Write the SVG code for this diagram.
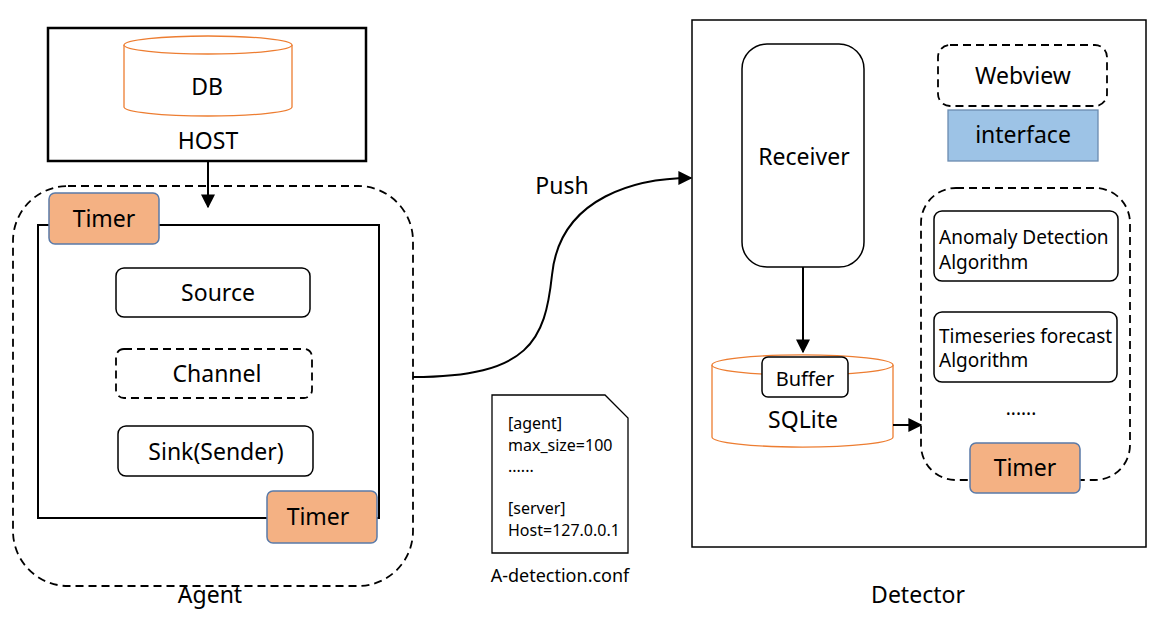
<svg xmlns="http://www.w3.org/2000/svg" width="1163" height="618" viewBox="0 0 1163 618">
<defs>
<style>
text{font-family:"Noto Sans","Open Sans",sans-serif;fill:#000}
.b{font-size:23px;text-anchor:middle}
.s{font-size:19px}
.f{font-size:16px}
.box{fill:#fff;stroke:#000;stroke-width:1.5}
.dash{fill:none;stroke:#000;stroke-width:1.8;stroke-dasharray:8,5}
.timer{fill:#F4B183;stroke:#5a7aa8;stroke-width:1.5}
.cyl{fill:#fff;stroke:#ED7D31;stroke-width:1.3}
.ln{fill:none;stroke:#000;stroke-width:2}
</style>
<marker id="ah" viewBox="0 0 10 10" refX="9" refY="5" markerWidth="7" markerHeight="7" orient="auto"><path d="M0,0L10,5L0,10z" fill="#000"/></marker>
</defs>
<rect width="1163" height="618" fill="#fff"/>
<g id="host">
<rect x="48" y="28" width="318" height="133" fill="#fff" stroke="#000" stroke-width="2.5"/>
<path class="cyl" d="M124,45 A84,9 0 0 1 292,45 L292,107 A84,9 0 0 1 124,107 Z"/>
<path class="cyl" d="M124,45 A84,9 0 0 0 292,45"/>
<text class="b" x="207" y="95">DB</text>
<text class="b" x="208" y="149">HOST</text>
</g>
<g id="agent">
<rect class="dash" x="13" y="186" width="400" height="400" rx="55"/>
<rect x="38" y="225" width="341" height="293" fill="none" stroke="#000" stroke-width="2"/>
<rect class="timer" x="49" y="193" width="110" height="51" rx="6"/>
<text class="b" x="104" y="227">Timer</text>
<rect class="box" x="116" y="268" width="194" height="49" rx="8"/>
<text class="b" x="218" y="301">Source</text>
<rect class="dash" x="116" y="349" width="196" height="49" rx="8"/>
<text class="b" x="217" y="382">Channel</text>
<rect class="box" x="118" y="426" width="195" height="50" rx="8"/>
<text class="b" x="216" y="460">Sink(Sender)</text>
<rect class="timer" x="267" y="491" width="110" height="52" rx="6"/>
<text class="b" x="318" y="525">Timer</text>
<text class="b" x="210" y="603">Agent</text>
</g>
<g id="conf">
<path d="M492,395 L605,395 L628,418 L628,553 L492,553 Z" fill="#fff" stroke="#000" stroke-width="1.3"/>
<text class="f" x="508" y="429">[agent]</text>
<text class="f" x="508" y="451">max_size=100</text>
<text class="f" x="508" y="472">......</text>
<text class="f" x="508" y="514">[server]</text>
<text class="f" x="508" y="536">Host=127.0.0.1</text>
<text x="560" y="582" style="font-size:18px;text-anchor:middle">A-detection.conf</text>
</g>
<g id="detector">
<rect x="692" y="20" width="454" height="527" fill="none" stroke="#000" stroke-width="1.5"/>
<text class="b" x="918" y="603">Detector</text>
<rect class="box" x="742" y="44" width="122" height="223" rx="25"/>
<text class="b" x="804" y="165">Receiver</text>
<path class="cyl" d="M712,365 A90,10 0 0 1 893,365 L893,437 A90,10 0 0 1 712,437 Z"/>
<path class="cyl" d="M712,365 A90,10 0 0 0 893,365"/>
<rect class="box" x="762" y="357" width="86" height="40" rx="6"/>
<text x="805" y="386" style="font-size:20px;text-anchor:middle">Buffer</text>
<text class="b" x="803" y="428">SQLite</text>
<rect class="dash" x="938" y="45" width="169" height="61" rx="12"/>
<text class="b" x="1023" y="84">Webview</text>
<rect x="948" y="110" width="150" height="51" fill="#9DC3E6" stroke="#6b8bb0" stroke-width="1.3"/>
<text class="b" x="1023" y="143">interface</text>
<rect class="dash" x="921" y="188" width="209" height="292" rx="35"/>
<rect class="box" x="934" y="211" width="184" height="70" rx="8"/>
<text class="s" x="939" y="244">Anomaly Detection</text>
<text class="s" x="939" y="269">Algorithm</text>
<rect class="box" x="934" y="312" width="183" height="70" rx="8"/>
<text class="s" x="939" y="343">Timeseries forecast</text>
<text class="s" x="939" y="367">Algorithm</text>
<text class="s" x="1021" y="415" style="text-anchor:middle">......</text>
<rect class="timer" x="970" y="443" width="110" height="50" rx="6"/>
<text class="b" x="1025" y="476">Timer</text>
</g>
<g id="connectors">
<line class="ln" x1="208" y1="161" x2="208" y2="207" marker-end="url(#ah)"/>
<path class="ln" d="M413,377 C530,377 545,340 552,275 C560,195 640,178 691,178" marker-end="url(#ah)"/>
<text class="b" x="562" y="194">Push</text>
<line class="ln" x1="803" y1="267" x2="803" y2="352" marker-end="url(#ah)"/>
<line class="ln" x1="893" y1="425" x2="921" y2="425" marker-end="url(#ah)"/>
</g>
</svg>
